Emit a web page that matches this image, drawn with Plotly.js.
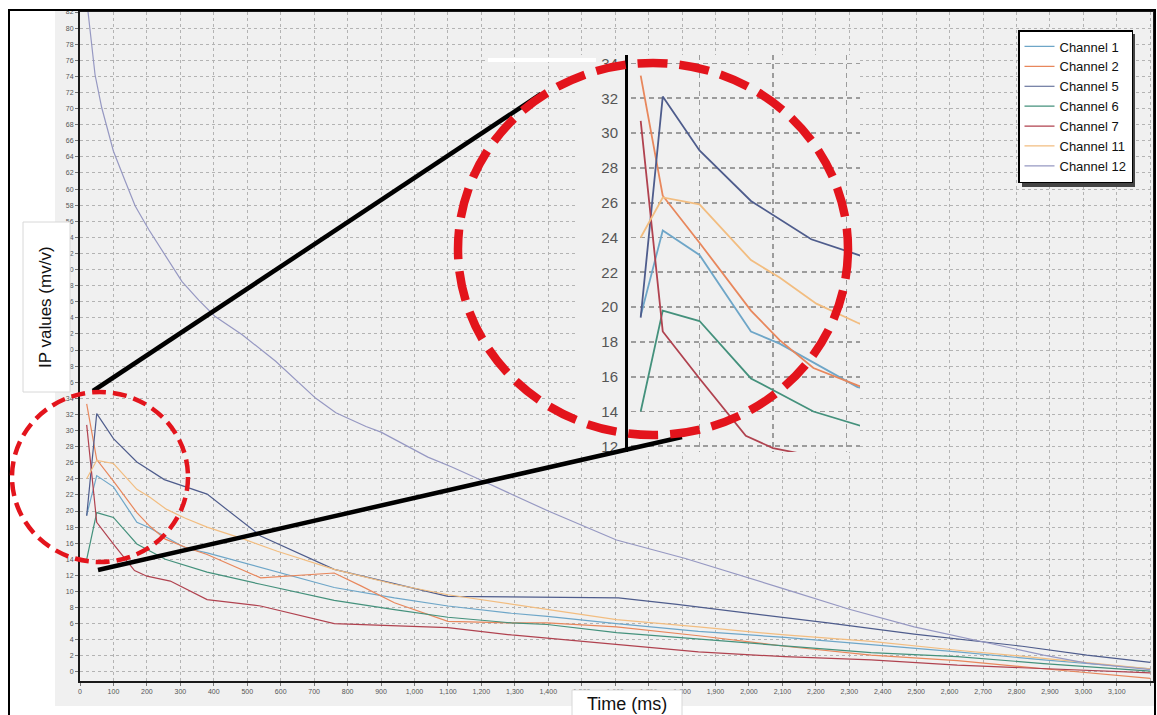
<!DOCTYPE html>
<html><head><meta charset="utf-8">
<script src="https://cdn.plot.ly/plotly-3.0.1.min.js"></script>
<style>html,body{margin:0;padding:0;background:#fff;}#chart{width:1157px;height:715px;}</style>
</head><body><div id="chart"></div>
<script>
// ---- data (time in ms, IP values in mV/V) ----
const ch1Time   = [20, 50, 100, 170, 209, 255, 315, 380, 540, 760, 940, 1100, 1290, 1397, 1604, 1849, 2107, 2365, 2623, 2881, 3200];
const ch1Values = [19.5, 24.4, 23.0, 18.6, 17.9, 16.8, 15.4, 14.8, 13.0, 10.5, 9.2, 8.2, 7.3, 6.9, 6.0, 5.05, 4.3, 3.4, 2.5, 1.5, 0.4];

const ch2Time   = [20, 50, 100, 170, 209, 255, 315, 380, 540, 760, 840, 940, 1100, 1290, 1397, 1604, 1849, 2107, 2365, 2623, 2881, 3200];
const ch2Values = [33.3, 26.4, 23.7, 19.8, 18.1, 16.5, 15.5, 14.6, 11.7, 12.3, 10.7, 8.6, 6.3, 6.1, 6.1, 5.6, 4.5, 3.2, 2.1, 1.4, 0.4, -0.8];

const ch5Time   = [20, 50, 100, 170, 252, 315, 380, 540, 760, 1100, 1290, 1513, 1610, 1785, 2004, 2236, 2494, 2623, 2817, 3010, 3200];
const ch5Values = [19.4, 32.1, 29.0, 26.1, 23.9, 23.0, 22.1, 16.9, 12.75, 9.4, 9.3, 9.25, 9.2, 8.4, 7.3, 6.1, 4.7, 4.1, 3.2, 2.1, 1.2];

const ch6Time   = [20, 50, 100, 170, 255, 315, 380, 540, 760, 940, 1100, 1290, 1397, 1604, 1849, 2107, 2365, 2623, 2881, 3200];
const ch6Values = [14.0, 19.8, 19.2, 15.9, 14.0, 13.2, 12.4, 10.9, 8.9, 7.75, 6.8, 6.1, 5.9, 4.9, 4.1, 3.2, 2.4, 1.9, 1.05, 0.1];

const ch7Time   = [20, 50, 100, 163, 200, 270, 380, 540, 760, 940, 1100, 1290, 1397, 1604, 1849, 2107, 2365, 2623, 2881, 3200];
const ch7Values = [30.7, 18.6, 15.9, 12.6, 11.9, 11.3, 9.0, 8.2, 6.0, 5.7, 5.5, 4.6, 4.2, 3.4, 2.5, 1.9, 1.5, 0.84, 0.42, -0.1];

const ch11Time   = [20, 50, 100, 170, 209, 259, 315, 380, 490, 590, 760, 940, 1100, 1290, 1397, 1604, 1849, 2107, 2365, 2623, 2881, 3200];
const ch11Values = [24.0, 26.3, 25.9, 22.7, 21.7, 20.2, 19.1, 18.0, 16.5, 15.0, 12.75, 10.9, 9.6, 8.4, 7.8, 6.5, 5.6, 4.6, 3.8, 2.7, 1.7, 0.4];

const ch12Time   = [20, 45, 65, 100, 135, 165, 205, 255, 305, 355, 403, 485, 585, 705, 765, 855, 900, 1040, 1110, 1190, 1290, 1400, 1604, 1810, 2107, 2300, 2494, 2688, 2881, 3010, 3200];
const ch12Values = [83.5, 74.2, 70.1, 64.7, 61.0, 57.9, 55.0, 51.8, 48.5, 46.2, 44.2, 41.9, 38.6, 34.0, 32.2, 30.5, 29.8, 26.7, 25.5, 24.0, 22.1, 20.0, 16.4, 14.1, 10.3, 7.8, 5.6, 3.8, 2.1, 1.1, 0.3];

const channelNames = ['Channel 1', 'Channel 2', 'Channel 5', 'Channel 6', 'Channel 7', 'Channel 11', 'Channel 12'];
const channelTimes = [ch1Time, ch2Time, ch5Time, ch6Time, ch7Time, ch11Time, ch12Time];
const channelValues = [ch1Values, ch2Values, ch5Values, ch6Values, ch7Values, ch11Values, ch12Values];
const channelColors = ['#6ea6c8', '#e8875c', '#4e5c8c', '#44917c', '#b0424f', '#f2bd80', '#9698c2'];

// ---- geometry helpers (pixel -> paper) ----
const W = 1157, H = 715, ML = 80, MR = 4, MT = 12, MB = 34;
const PW = W - ML - MR, PH = H - MT - MB;
const px = p => (p - ML) / PW;
const py = p => (H - MB - p) / PH;

const FONT = 'Liberation Sans, Arial, sans-serif';

const traces = [];
channelNames.forEach((n, i) => traces.push({
  type: 'scatter', mode: 'lines', name: n, x: channelTimes[i], y: channelValues[i],
  line: {color: channelColors[i], width: 1.2}, xaxis: 'x', yaxis: 'y'
}));
channelNames.forEach((n, i) => traces.push({
  type: 'scatter', mode: 'lines', name: n, showlegend: false, x: channelTimes[i], y: channelValues[i],
  line: {color: channelColors[i], width: 1.8}, xaxis: 'x2', yaxis: 'y2'
}));

// inset scale: 0 ms at x=626px, 0.735 px/ms ; 32 at y=98.3px, 17.4 px/unit
const insL = 577, insR = 860, insT = 55, insB = 452, insAxisPx = 626;
const x2range = [(insL - insAxisPx) / 0.735, (insR - insAxisPx) / 0.735];
const y2range = [32 - (insB - 98.3) / 17.4, 32 + (98.3 - insT) / 17.4];

const tickFont = {family: FONT, size: 7, color: '#555'};

const layout = {
  width: W, height: H,
  margin: {l: ML, r: MR, t: MT, b: MB, pad: 0},
  paper_bgcolor: '#ffffff',
  plot_bgcolor: '#f0f0f0',
  showlegend: true,
  legend: {
    x: px(1018), y: py(30), xanchor: 'left', yanchor: 'top',
    bgcolor: '#ffffff', bordercolor: '#000000', borderwidth: 1.5,
    font: {family: FONT, size: 13, color: '#111'}, itemwidth: 30
  },
  xaxis: {
    domain: [0, 1], range: [0, 3208], tick0: 0, dtick: 100, tickformat: ',d',
    showgrid: true, gridcolor: '#b3b3b3', griddash: 'dot', gridwidth: 1,
    showline: true, mirror: true, linecolor: '#1a1a1a', linewidth: 2,
    ticks: 'outside', ticklen: 3, tickcolor: '#777', tickfont: tickFont, zeroline: false
  },
  yaxis: {
    domain: [0, 1], range: [-1.12, 82.0], tick0: 0, dtick: 2,
    showgrid: true, gridcolor: '#b3b3b3', griddash: 'dot', gridwidth: 1,
    showline: true, mirror: true, linecolor: '#1a1a1a', linewidth: 2,
    ticks: 'outside', ticklen: 3, tickcolor: '#777', tickfont: tickFont, zeroline: false
  },
  xaxis2: {
    domain: [px(insL), px(insR)], range: x2range, anchor: 'y2',
    tickvals: [100, 200, 300], showticklabels: false, ticks: '',
    showgrid: true, gridcolor: '#9c9c9c', griddash: '5px,4px', gridwidth: 1.8,
    showline: false, zeroline: false
  },
  yaxis2: {
    domain: [py(insB), py(insT)], range: y2range, anchor: 'free', position: px(insAxisPx),
    tick0: 0, dtick: 2, ticks: '', ticklabelstandoff: 4,
    tickfont: {family: FONT, size: 15, color: '#555'},
    showgrid: true, gridcolor: '#9c9c9c', griddash: '5px,4px', gridwidth: 1.8,
    showline: true, linecolor: '#000', linewidth: 3, zeroline: false
  },
  shapes: [
    {type: 'rect', xref: 'paper', yref: 'paper', layer: 'below', x0: px(55), x1: px(1155), y0: py(706), y1: py(10),
     fillcolor: '#f0f0f0', line: {width: 0}},
    {type: 'rect', xref: 'x2', yref: 'y2', layer: 'between', x0: x2range[0], x1: -1, y0: y2range[0], y1: y2range[1],
     fillcolor: '#f0f0f0', line: {width: 0}},
    {type: 'rect', xref: 'paper', yref: 'paper', layer: 'above', x0: px(9), x1: px(1155), y0: py(725), y1: py(10),
     line: {color: '#000', width: 2}},
    {type: 'rect', xref: 'paper', yref: 'paper', layer: 'above', x0: px(488), x1: px(596), y0: py(62), y1: py(58),
     fillcolor: '#ffffff', line: {width: 0}},
    {type: 'rect', xref: 'paper', yref: 'paper', layer: 'above', x0: px(23), x1: px(70), y0: py(392), y1: py(222),
     fillcolor: '#ffffff', line: {color: '#d8d8d8', width: 1}},
    {type: 'rect', xref: 'paper', yref: 'paper', layer: 'above', x0: px(572), x1: px(682), y0: py(716), y1: py(690),
     fillcolor: '#ffffff', line: {color: '#d8d8d8', width: 1}},
    {type: 'rect', xref: 'paper', yref: 'paper', layer: 'above', x0: px(1022), x1: px(1135), y0: py(187), y1: py(34),
     fillcolor: '#444', line: {width: 0}},
    {type: 'line', xref: 'paper', yref: 'paper', layer: 'above', x0: px(93), y0: py(391), x1: px(541), y1: py(94),
     line: {color: '#000', width: 4.5}},
    {type: 'line', xref: 'paper', yref: 'paper', layer: 'above', x0: px(98), y0: py(570), x1: px(682), y1: py(437),
     line: {color: '#000', width: 4.5}},
    {type: 'circle', xref: 'paper', yref: 'paper', layer: 'above', x0: px(12), x1: px(188), y0: py(562), y1: py(392),
     line: {color: '#e3141c', width: 4.5, dash: '14px,7px'}},
    {type: 'circle', xref: 'paper', yref: 'paper', layer: 'above', x0: px(458), x1: px(848), y0: py(435), y1: py(63),
     line: {color: '#e3141c', width: 8.5, dash: '30px,12px'}}
  ],
  annotations: [
    {xref: 'paper', yref: 'paper', x: px(45), y: py(307), text: 'IP values (mv/v)', showarrow: false, textangle: -90,
     font: {family: FONT, size: 17, color: '#111'}, xanchor: 'center', yanchor: 'middle'},
    {xref: 'paper', yref: 'paper', x: px(627), y: py(704), text: 'Time (ms)', showarrow: false,
     font: {family: FONT, size: 18, color: '#111'}, xanchor: 'center', yanchor: 'middle'}
  ]
};

Plotly.newPlot('chart', traces, layout, {displayModeBar: false, staticPlot: true});
</script>
</body></html>
